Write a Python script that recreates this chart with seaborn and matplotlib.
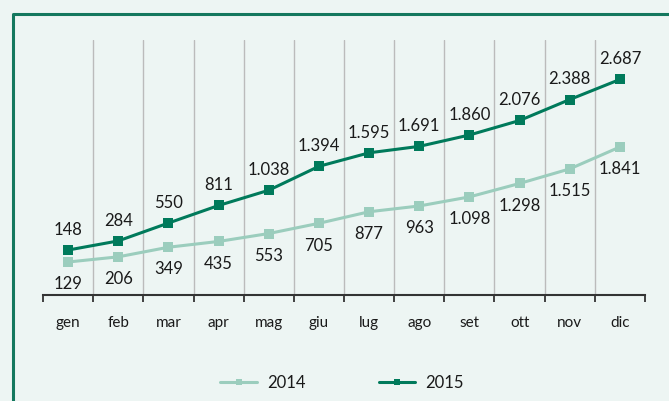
import matplotlib
matplotlib.use("Agg")
import matplotlib.pyplot as plt
import seaborn as sns
from matplotlib.lines import Line2D

# dati
months = ["gen", "feb", "mar", "apr", "mag", "giu", "lug", "ago", "set", "ott", "nov", "dic"]
vals_2014 = [129, 206, 349, 435, 553, 705, 877, 963, 1098, 1298, 1515, 1841]
vals_2015 = [148, 284, 550, 811, 1038, 1394, 1595, 1691, 1860, 2076, 2388, 2687]
series_names = ["2014", "2015"]

BG = "#EDF5F3"
C14 = "#9BCDBD"
C15 = "#007A5B"
FRAME = "#14785E"
TXT = "#1A1A1A"


def fmt(v):
    # separatore delle migliaia all'italiana
    return f"{v:,}".replace(",", ".")


sns.set_theme(style="white")
plt.rcParams["font.family"] = ["Lato", "DejaVu Sans"]

fig = plt.figure(figsize=(6.69, 4.01), dpi=100, facecolor=BG)
ax = fig.add_axes([43 / 669, 1 - 295 / 401, (645 - 43) / 669, (295 - 40) / 401])
ax.set_facecolor("none")
ax2 = ax.twinx()
ax2.set_facecolor("none")

x = list(range(len(months)))

sns.lineplot(x=x, y=vals_2014, ax=ax, color=C14, marker="s", markersize=7,
             markeredgewidth=0, linewidth=2.2, zorder=3)
sns.lineplot(x=x, y=vals_2015, ax=ax2, color=C15, marker="s", markersize=7,
             markeredgewidth=0, linewidth=2.2, zorder=3)

# etichette dati
for i, v in enumerate(vals_2014):
    ax.annotate(fmt(v), (i, v), xytext=(0, -16), textcoords="offset points",
                ha="center", va="center", fontsize=12, color=TXT)
for i, v in enumerate(vals_2015):
    ax2.annotate(fmt(v), (i, v), xytext=(0, 14.5), textcoords="offset points",
                 ha="center", va="center", fontsize=12, color=TXT)

ax.set_xlim(-0.5, len(months) - 0.5)
ax2.set_xlim(-0.5, len(months) - 0.5)
ax.set_ylim(-362, 3433)
ax2.set_ylim(-521, 3274)

# griglia verticale tra le categorie
for b in range(1, len(months)):
    ax.axvline(b - 0.5, color="#BBBBBB", lw=1, zorder=1)

ax.set_xticks(x)
ax.set_xticklabels(months, fontsize=11, color=TXT)
ax.set_xticks([b - 0.5 for b in range(len(months) + 1)], minor=True)
ax.tick_params(axis="x", which="major", length=0, pad=15)
ax.tick_params(axis="x", which="minor", length=5, width=1.3, color="#333333",
               direction="out", bottom=True)
ax.set_yticks([])
ax2.set_yticks([])
ax.set_xlabel("")
ax.set_ylabel("")
ax2.set_ylabel("")

for s in ["left", "right", "top"]:
    ax.spines[s].set_visible(False)
for s in ax2.spines.values():
    s.set_visible(False)
ax.spines["bottom"].set_color("#333333")
ax.spines["bottom"].set_linewidth(1.5)

# cornice verde
fig.add_artist(Line2D([12.5 / 669, 12.5 / 669, 1.0], [0, 1 - 14 / 401, 1 - 14 / 401],
                      transform=fig.transFigure, color=FRAME, lw=2.2))

handles = [
    Line2D([], [], color=C14, lw=2.2, marker="s", markersize=5, markeredgewidth=0),
    Line2D([], [], color=C15, lw=2.2, marker="s", markersize=5, markeredgewidth=0),
]
fig.legend(handles, series_names, loc="center", bbox_to_anchor=(342 / 669, 1 - 383 / 401),
           ncol=2, frameon=False, fontsize=12, handlelength=2.2, columnspacing=4.4,
           handletextpad=0.6, labelcolor=TXT)

fig.savefig("out.png", dpi=100, facecolor=BG)
